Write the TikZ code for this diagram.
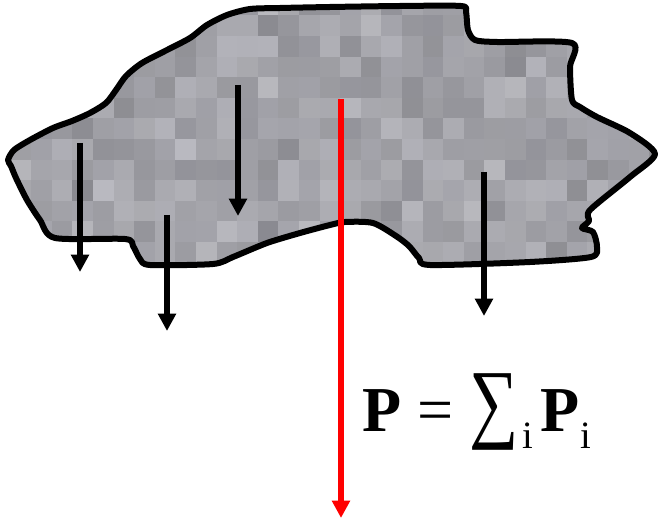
\documentclass[tikz,border=0pt]{standalone}
\usepackage{fontspec}
\setmainfont{Liberation Serif}
\usetikzlibrary{arrows.meta}
\definecolor{cellLight}{RGB}{186,186,192}
\definecolor{cellDark}{RGB}{136,136,142}
\definecolor{resultRed}{RGB}{255,0,0}
\tikzset{
  force/.style={line width=4.3pt, -{Triangle[width=13pt,length=13pt]}},
  resultant/.style={line width=4pt, resultRed, -{Triangle[width=13pt,length=13pt]}},
  outline/.style={line width=4.5pt, line join=round},
}
\def\bodyshape{plot[smooth cycle, tension=0.45] coordinates {
 (8,160) (14,150) (30,140) (53,128) (72,121) (90,113) (106,103) (116,90) (126,76) (142,63)
 (167,50) (190,38) (207,25) (227,15) (250,9) (280,8) (330,7) (400,6) (461,6) (466,12)
 (468,30) (475,40) (497,42) (572,43) (570,67) (572,100) (580,107) (597,117) (630,133)
 (655,154) (630,177) (590,210) (589,221) (582,228) (593,232) (597,247) (591,257) (530,262)
 (430,265) (419,258) (409,246) (396,236) (373,223) (345,222) (330,225) (300,233) (267,243)
 (233,257) (213,264) (150,265) (140,259) (133,246) (125,239) (55,238) (40,220) (27,200)
 (16,178) (11,166)}}
\begin{document}
\begin{tikzpicture}[x=0.75pt,y=-0.75pt]
\useasboundingbox (0,0) rectangle (658,520);
\pgfmathsetseed{11}
\begin{scope}
  \clip \bodyshape;
  \foreach \i in {0,...,32}{
    \foreach \j in {0,...,13}{
      \pgfmathsetmacro\g{int(50+50*(rnd+rnd-1))}
      \fill[cellDark!\g!cellLight] ({-10.1+20.6*\i},{-5.1+20.6*\j}) rectangle ++(20.7,20.7);
    }
  }
\end{scope}
\draw[outline] \bodyshape;
\coordinate (a1s) at (80,143);  \coordinate (a1e) at (80,272);
\coordinate (a2s) at (238,85);  \coordinate (a2e) at (238,216);
\coordinate (a3s) at (167,215); \coordinate (a3e) at (167,331);
\coordinate (a4s) at (484,172); \coordinate (a4e) at (484,316);
\coordinate (rs) at (341,99);   \coordinate (re) at (341,518);
\draw[force] (a1s) -- (a1e);
\draw[force] (a2s) -- (a2e);
\draw[force] (a3s) -- (a3e);
\draw[force] (a4s) -- (a4e);
\draw[resultant] (rs) -- (re);
\node[anchor=base west, inner sep=0pt] (eq) at (362,432)
  {\fontsize{48}{48}\selectfont\textbf{P} = \scalebox{1.08}[1.38]{∑}\kern3pt\raisebox{-12.5pt}{\fontsize{29}{29}\selectfont i}\kern5.5pt\textbf{P}\kern0.5pt\raisebox{-12.5pt}{\fontsize{29}{29}\selectfont i}};
\end{tikzpicture}
\end{document}
